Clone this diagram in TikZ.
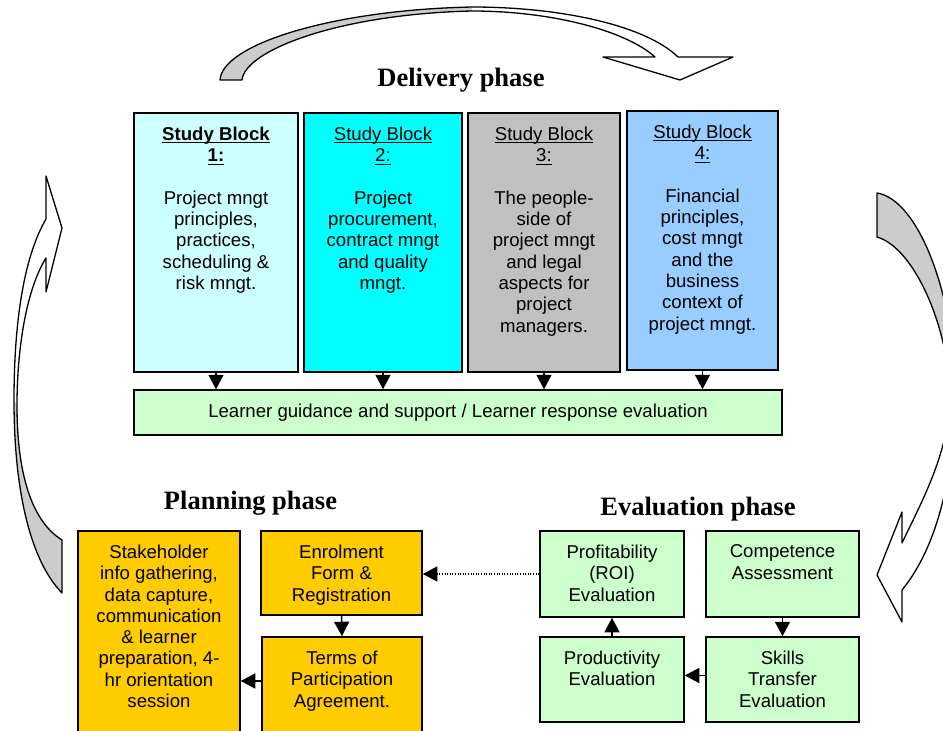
\documentclass[tikz,border=0pt]{standalone}
\usepackage{fontspec}
\setmainfont{Liberation Sans}
\newfontfamily\titlefont{Liberation Serif}
\usepackage{xcolor}
\definecolor{SBLightCyan}{HTML}{CCFFFF}
\definecolor{SBCyan}{HTML}{00FFFF}
\definecolor{SBGray}{HTML}{C0C0C0}
\definecolor{SBBlue}{HTML}{99CCFF}
\definecolor{EvalGreen}{HTML}{CCFFCC}
\definecolor{PlanGold}{HTML}{FFCC00}
\definecolor{RibGray}{HTML}{CCCCCC}
\usetikzlibrary{arrows.meta,positioning,calc}
\newcommand\sbul[1]{\setbox0\hbox{#1}\rlap{\rule[-3pt]{\wd0}{1.2pt}}\box0}

\begin{document}
\begin{tikzpicture}[x=1pt,y=-1pt,
  font=\fontsize{18.6}{21.3}\selectfont,
  bx/.style={draw,line width=1.5pt,inner sep=0pt},
  sb/.style={bx,minimum height=259pt},
  pl/.style={bx,fill=PlanGold},
  ev/.style={bx,fill=EvalGreen},
  txt/.style={anchor=north,align=center,inner sep=0pt},
  phase/.style={font=\titlefont\bfseries\fontsize{26.5}{30}\selectfont,anchor=base,inner sep=0pt},
  conn/.style={line width=1.5pt,-{Triangle[length=14.5pt,width=15pt]}},
  rib/.style={draw,line width=1.3pt,line join=round}]
\useasboundingbox (0,0) rectangle (943,731);
% cycle ribbons
\fill[RibGray] (220,80) .. controls (222,45) and (330,10) .. (472,7) -- (472,11)
  .. controls (340,14) and (245,50) .. (242,80) -- cycle;
\draw[rib] (220,80) .. controls (222,45) and (330,10) .. (472,7)
  .. controls (560,7) and (645,25) .. (678,57) -- (733,57) -- (680,80) -- (603,57) -- (655,57)
  .. controls (625,30) and (550,11) .. (472,11)
  .. controls (340,14) and (245,50) .. (242,80) -- cycle;
\fill[RibGray] (877,193) .. controls (920,200) and (955,300) .. (955,390) -- (950,400)
  .. controls (950,330) and (915,248) .. (877,237) -- cycle;
\draw[rib] (877,193) .. controls (920,200) and (955,300) .. (955,390)
  .. controls (955,480) and (935,550) .. (902,590) -- (902,622) -- (877,575) -- (902,512) -- (902,543)
  .. controls (920,505) and (948,455) .. (950,400)
  .. controls (950,330) and (915,248) .. (877,237) -- cycle;
\fill[RibGray] (14,400) .. controls (14,490) and (30,560) .. (62,593) -- (62,540)
  .. controls (30,520) and (17,470) .. (17,405) -- cycle;
\draw[rib] (46,219) .. controls (22,260) and (14,330) .. (14,400)
  .. controls (14,490) and (30,560) .. (62,593) -- (62,540)
  .. controls (30,520) and (17,470) .. (17,405)
  .. controls (17,350) and (26,290) .. (46,258) -- (46,292) -- (62,228) -- (46,176) -- cycle;
% delivery phase
\node[phase] (deltitle) at (461,86) {Delivery phase};
\node[sb,fill=SBLightCyan,minimum width=164pt] (sb1) at (216,242.5) {};
\node[sb,fill=SBCyan,minimum width=158pt] (sb2) at (383,242.5) {};
\node[sb,fill=SBGray,minimum width=152pt] (sb3) at (544,242.5) {};
\node[sb,fill=SBBlue,minimum width=151pt] (sb4) at (702.5,240.5) {};
\node[txt] (sb1t) at ([yshift=-14.5pt]sb1.north) {\sbul{\textbf{Study Block}}\\\sbul{\textbf{1:}}\\[21.3pt]
  Project mngt\\principles,\\practices,\\scheduling \&\\risk mngt.};
\node[txt] (sb2t) at ([yshift=-14.5pt]sb2.north) {\sbul{Study Block}\\\sbul{2:}\\[21.3pt]
  Project\\procurement,\\contract mngt\\and quality\\mngt.};
\node[txt] (sb3t) at ([yshift=-14.5pt]sb3.north) {\sbul{Study Block}\\\sbul{3:}\\[21.3pt]
  The people-\\side of\\project mngt\\and legal\\aspects for\\project\\managers.};
\node[txt] (sb4t) at ([yshift=-14.5pt]sb4.north) {\sbul{Study Block}\\\sbul{4:}\\[21.3pt]
  Financial\\principles,\\cost mngt\\and the\\business\\context of\\project mngt.};
\node[bx,fill=EvalGreen,minimum width=648pt,minimum height=45pt] (lg) at (458,412.5)
  {Learner guidance and support / Learner response evaluation};
\foreach \i in {1,...,4}{
  \draw[conn] (sb\i.south) -- (sb\i.south |- lg.north);
}
% planning phase
\node[phase] (plantitle) at (250.5,509) {Planning phase};
\node[pl,minimum width=162pt,minimum height=214pt] (stake) at (159,638) {};
\node[pl,minimum width=161pt,minimum height=84pt] (enrol) at (341.5,573) {};
\node[pl,minimum width=160pt,minimum height=108pt] (terms) at (342,691) {};
\node[txt] (staket) at ([yshift=-14.5pt]stake.north) {Stakeholder\\info gathering,\\data capture,\\communication\\\& learner\\preparation, 4-\\hr orientation\\session};
\node[txt] (enrolt) at ([yshift=-14.5pt]enrol.north) {Enrolment\\Form \&\\Registration};
\node[txt] (termst) at ([yshift=-14.5pt]terms.north) {Terms of\\Participation\\Agreement.};
\draw[conn] (enrol.south) -- (terms.north);
\draw[conn] ([yshift=10pt]terms.west) -- ([yshift=10pt]terms.west -| stake.east);
% evaluation phase
\node[phase] (evaltitle) at (698,515) {Evaluation phase};
\node[ev,minimum width=144pt,minimum height=86pt] (prof) at (612,574) {};
\node[ev,minimum width=153pt,minimum height=86pt] (comp) at (782.5,574) {};
\node[ev,minimum width=144pt,minimum height=85pt] (prod) at (612,679.5) {};
\node[ev,minimum width=153pt,minimum height=85pt] (skill) at (782.5,679.5) {};
\node[txt] (proft) at ([yshift=-14.5pt]prof.north) {Profitability\\(ROI)\\Evaluation};
\node[txt] (compt) at ([yshift=-14.5pt]comp.north) {Competence\\Assessment};
\node[txt] (prodt) at ([yshift=-14.5pt]prod.north) {Productivity\\Evaluation};
\node[txt] (skillt) at ([yshift=-14.5pt]skill.north) {Skills\\Transfer\\Evaluation};
\draw[conn] (comp.south) -- (skill.north);
\draw[conn] ([yshift=4pt]skill.west) -- ([yshift=4pt]prod.east);
\draw[conn] (prod.north) -- (prof.south);
\draw[conn,line width=1.2pt,dash pattern=on 1pt off 1.6pt] (prof.west) -- (prof.west -| enrol.east);
\end{tikzpicture}
\end{document}
